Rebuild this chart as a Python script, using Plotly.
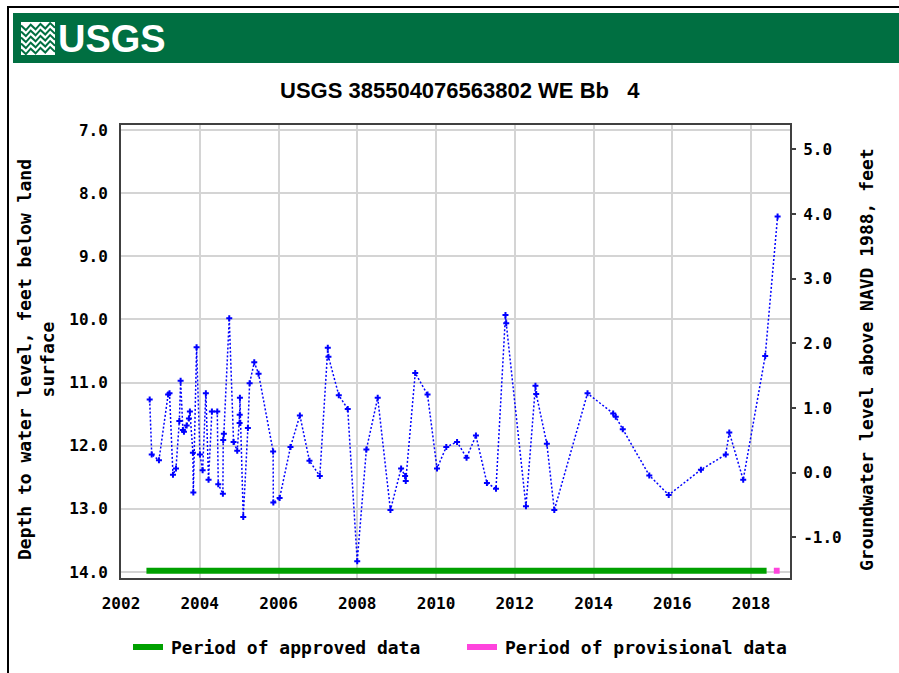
import plotly.graph_objects as go

# measured water levels (depth below land surface, ft)
dates = [
    "2002-09-24", "2002-10-13", "2002-12-19", "2003-03-14", "2003-03-27", "2003-04-28",
    "2003-05-26", "2003-06-26", "2003-07-08", "2003-07-29", "2003-08-08", "2003-09-02",
    "2003-09-23", "2003-10-02", "2003-10-30", "2003-11-03", "2003-12-03", "2004-01-03",
    "2004-01-28", "2004-02-27", "2004-03-23", "2004-04-23", "2004-06-12", "2004-06-21",
    "2004-08-03", "2004-08-06", "2004-08-12", "2004-10-01", "2004-11-10", "2004-12-14",
    "2005-01-05", "2005-01-06", "2005-01-08", "2005-02-08", "2005-03-23", "2005-04-08",
    "2005-05-21", "2005-06-30", "2005-11-12", "2005-11-14", "2006-01-11", "2006-04-22",
    "2006-07-18", "2006-10-15", "2007-01-19", "2007-04-03", "2007-04-09", "2007-07-14",
    "2007-10-05", "2008-01-01", "2008-03-26", "2008-07-09", "2008-11-04", "2009-02-11",
    "2009-03-20", "2009-03-26", "2009-06-22", "2009-10-14", "2010-01-10", "2010-04-06",
    "2010-07-15", "2010-10-11", "2011-01-06", "2011-04-18", "2011-07-11", "2011-10-07",
    "2011-10-14", "2012-04-14", "2012-07-11", "2012-07-18", "2012-10-25", "2013-01-02",
    "2013-11-06", "2014-07-02", "2014-07-26", "2014-09-29", "2015-06-02", "2015-11-29",
    "2016-09-23", "2017-05-11", "2017-06-13", "2017-10-20", "2018-05-12", "2018-09-04",
]
depth = [
    11.27, 12.14, 12.23, 11.19, 11.17, 12.46,
    12.36, 11.61, 10.97, 11.75, 11.78, 11.68,
    11.57, 11.46, 12.11, 12.74, 10.44, 12.14,
    12.39, 11.17, 12.54, 11.46, 11.46, 12.61,
    12.76, 11.91, 11.81, 9.98, 11.94, 12.08,
    11.64, 11.51, 11.24, 13.13, 11.72, 11.01,
    10.68, 10.86, 12.09, 12.90, 12.83, 12.02,
    11.52, 12.24, 12.48, 10.45, 10.59, 11.20,
    11.42, 13.83, 12.06, 11.24, 13.02, 12.36,
    12.48, 12.56, 10.85, 11.19, 12.36, 12.02,
    11.94, 12.19, 11.84, 12.59, 12.68, 9.93,
    10.06, 12.96, 11.05, 11.18, 11.97, 13.02,
    11.17, 11.49, 11.54, 11.74, 12.47, 12.78,
    12.38, 12.14, 11.79, 12.54, 10.58, 8.37,
]

approved_period = ["2002-08-25", "2018-05-25"]
provisional_period = ["2018-07-31", "2018-09-23"]
period_depth = 13.98

depth_ticks = [7.0, 8.0, 9.0, 10.0, 11.0, 12.0, 13.0, 14.0]
elev_ticks = [-1.0, 0.0, 1.0, 2.0, 3.0, 4.0, 5.0]

W, H = 899, 673
L, R, T, B = 121, 790, 125, 578


def px(x):
    return (x - L) / (R - L)


def py(y):
    return (B - y) / (B - T)


mono = "DejaVu Sans Mono"
blue = "#0000ff"
green = "#00a000"
pink = "#ff44dd"

fig = go.Figure()
fig.add_trace(go.Scatter(
    x=dates, y=depth, mode="lines+markers",
    line=dict(color=blue, width=1.5, dash="2px,2px"),
    marker=dict(symbol="cross", size=5, color=blue),
    showlegend=False, hoverinfo="x+y",
))
fig.add_trace(go.Scatter(
    x=approved_period, y=[period_depth] * 2, mode="lines",
    line=dict(color=green, width=6), showlegend=False,
))
fig.add_trace(go.Scatter(
    x=provisional_period, y=[period_depth] * 2, mode="lines",
    line=dict(color=pink, width=6), showlegend=False,
))
# dummy trace so the right axis gets drawn
fig.add_trace(go.Scatter(x=[dates[0]], y=[0], yaxis="y2", mode="markers",
                         marker=dict(opacity=0), showlegend=False, hoverinfo="skip"))

tickfont = dict(family=mono, size=16, color="black", weight="bold")

fig.update_layout(
    width=W, height=H,
    margin=dict(l=L, r=W - R, t=T, b=H - B),
    paper_bgcolor="white", plot_bgcolor="white",
    xaxis=dict(
        type="date", range=["2002-01-01", "2018-12-28"],
        tick0="2002-01-01", dtick="M24", tickformat="%Y",
        showgrid=True, gridcolor="#d4d4d4", gridwidth=2,
        showline=True, linecolor="#404040", linewidth=2, mirror=True,
        ticks="", tickfont=tickfont, ticklabelstandoff=10,
        zeroline=False,
    ),
    yaxis=dict(
        range=[14.095, 6.921], tickvals=depth_ticks,
        ticktext=[f"{v:.1f}" for v in depth_ticks],
        showgrid=True, gridcolor="#d4d4d4", gridwidth=2,
        showline=True, linecolor="#404040", linewidth=2, mirror=True,
        ticks="", tickfont=tickfont, ticklabelstandoff=8,
        zeroline=False,
    ),
    yaxis2=dict(
        overlaying="y", side="right", range=[-1.631, 5.376],
        tickvals=elev_ticks, ticktext=[f"{v:.1f}" for v in elev_ticks],
        showgrid=False, zeroline=False, showline=False,
        ticks="outside", ticklen=5, tickwidth=2, tickcolor="#404040",
        tickfont=tickfont, ticklabelstandoff=4,
    ),
    showlegend=False,
)

shapes = [
    # outer frame
    dict(type="rect", xref="paper", yref="paper", x0=px(8), x1=px(905), y0=py(7), y1=py(690),
         line=dict(color="black", width=2), fillcolor="rgba(0,0,0,0)", layer="below"),
    # banner
    dict(type="rect", xref="paper", yref="paper", x0=px(13), x1=px(905), y0=py(13), y1=py(63),
         line=dict(width=0), fillcolor="#006f41", layer="below"),
    # logo icon
    dict(type="rect", xref="paper", yref="paper", x0=px(21), x1=px(55), y0=py(22), y1=py(55),
         line=dict(width=0), fillcolor="white", layer="below"),
    # legend samples
    dict(type="line", xref="paper", yref="paper", x0=px(133), x1=px(163), y0=py(647), y1=py(647),
         line=dict(color=green, width=6)),
    dict(type="line", xref="paper", yref="paper", x0=px(467), x1=px(497), y0=py(647), y1=py(647),
         line=dict(color=pink, width=6)),
]
# green waves across the logo icon
for k, y0 in enumerate([28, 34, 40, 46, 52]):
    pts = []
    for i in range(8):
        xx = 21 + i * 34 / 7
        yy = y0 + (2.5 if i % 2 else -2.5) - i * 0.4
        pts.append(f"{px(xx)},{py(yy)}")
    shapes.append(dict(type="path", xref="paper", yref="paper", layer="below",
                       path="M" + " L".join(pts), line=dict(color="#006f41", width=2)))

fig.update_layout(shapes=shapes)

annotations = [
    dict(text="USGS", x=px(56), y=py(39), xanchor="left", yanchor="middle",
         font=dict(family="Liberation Sans Narrow, Liberation Sans", size=38, color="white",
                   weight="bold")),
    dict(text="USGS 385504076563802 WE Bb\u00a0\u00a0\u00a04", x=px(459.5), y=py(90),
         xanchor="center", yanchor="middle",
         font=dict(family="Liberation Sans Narrow, Liberation Sans", size=22, color="black",
                   weight="bold")),
    dict(text="Depth to water level, feet below land<br>surface", x=px(36), y=py(360),
         xanchor="center", yanchor="middle", textangle=-90,
         font=dict(family=mono, size=18, color="black", weight="bold")),
    dict(text="Groundwater level above NAVD 1988, feet", x=px(866), y=py(360),
         xanchor="center", yanchor="middle", textangle=-90,
         font=dict(family=mono, size=18, color="black", weight="bold")),
    dict(text="Period of approved data", x=px(169), y=py(647), xanchor="left", yanchor="middle",
         font=dict(family=mono, size=18, color="black", weight="bold")),
    dict(text="Period of provisional data", x=px(503), y=py(647), xanchor="left", yanchor="middle",
         font=dict(family=mono, size=18, color="black", weight="bold")),
]
for a in annotations:
    a.update(xref="paper", yref="paper", showarrow=False)
fig.update_layout(annotations=annotations)

fig.write_html("out.html", config={"displayModeBar": False},
               post_script="document.body.style.margin='0';")
